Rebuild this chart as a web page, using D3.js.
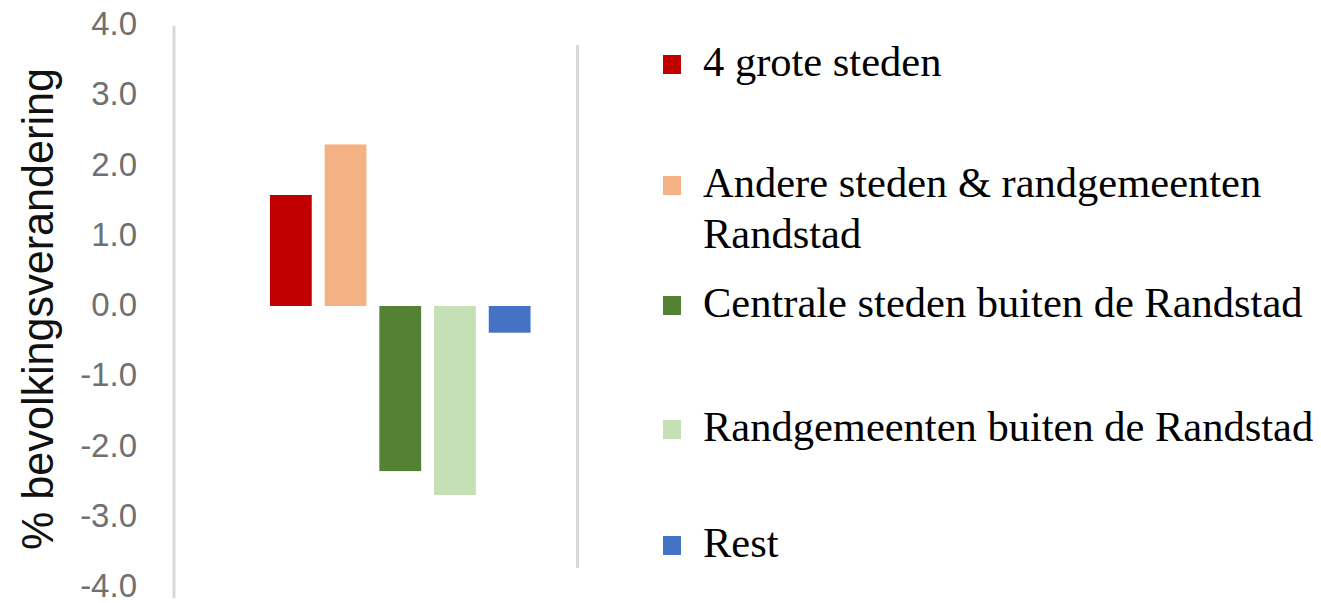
<!DOCTYPE html>
<html>
<head>
<meta charset="utf-8">
<script src="https://cdn.jsdelivr.net/npm/d3@7/dist/d3.min.js"></script>
<style>
  html, body { margin: 0; padding: 0; background: #fff; }
  svg { display: block; }
</style>
</head>
<body>
<svg id="chart" width="1321" height="603"></svg>
<script>
// ---- data ----
const series = [
  "4 grote steden",
  "Andere steden & randgemeenten Randstad",
  "Centrale steden buiten de Randstad",
  "Randgemeenten buiten de Randstad",
  "Rest"
];
const values = [1.58, 2.30, -2.35, -2.69, -0.38];
const colors = ["#c00000", "#f4b183", "#548235", "#c5e0b4", "#4472c4"];
const legendLines = [
  ["4 grote steden"],
  ["Andere steden & randgemeenten", "Randstad"],
  ["Centrale steden buiten de Randstad"],
  ["Randgemeenten buiten de Randstad"],
  ["Rest"]
];
const yTicks = [4, 3, 2, 1, 0, -1, -2, -3, -4];
const yTitle = "% bevolkingsverandering";

// ---- layout ----
const svg = d3.select("#chart");
const y = d3.scaleLinear().domain([-4, 4]).range([587, 25]);
const x = d3.scaleBand().domain(series).range([263.5, 537]).paddingInner(0.236).paddingOuter(0.118);

// axis lines
svg.append("line").attr("x1", 174).attr("x2", 174).attr("y1", 26).attr("y2", 598)
  .attr("stroke", "#d9d9d9").attr("stroke-width", 3);
svg.append("line").attr("x1", 577.5).attr("x2", 577.5).attr("y1", 45).attr("y2", 568)
  .attr("stroke", "#d9d9d9").attr("stroke-width", 3);

// y axis ticks
const fmt = d3.format(".1f");
const yAxis = d3.axisLeft(y).tickValues(yTicks)
  .tickFormat(d => fmt(d).replace("\u2212", "-"))
  .tickSize(0).tickPadding(0);
const gy = svg.append("g").attr("transform", "translate(137,-2)").call(yAxis);
gy.select(".domain").remove();
gy.selectAll("text")
  .attr("font-family", "'Liberation Sans', Arial, sans-serif")
  .attr("font-size", 33)
  .attr("fill", "#707070")
  .attr("dy", "0.35em");

// y title
svg.append("text")
  .attr("transform", "translate(53,309) rotate(-90)")
  .attr("text-anchor", "middle")
  .attr("font-family", "'Liberation Sans', Arial, sans-serif")
  .attr("font-size", 45)
  .attr("textLength", 482)
  .attr("lengthAdjust", "spacingAndGlyphs")
  .attr("fill", "#111")
  .text(yTitle);

// bars
svg.append("g").selectAll("rect")
  .data(series.map((s, i) => ({ s, v: values[i], c: colors[i] })))
  .join("rect")
  .attr("x", d => x(d.s))
  .attr("width", x.bandwidth())
  .attr("y", d => y(Math.max(0, d.v)))
  .attr("height", d => Math.abs(y(d.v) - y(0)))
  .attr("fill", d => d.c);

// legend
const legendBaselines = [76, 197, 317, 441, 557];
const lineGap = 51;
const lg = svg.append("g");
series.forEach((s, i) => {
  const by = legendBaselines[i];
  lg.append("rect").attr("x", 663).attr("y", by - 21).attr("width", 18).attr("height", 19).attr("fill", colors[i]);
  const t = lg.append("text")
    .attr("font-family", "'Liberation Serif', 'Times New Roman', serif")
    .attr("font-size", 42.5)
    .attr("fill", "#000");
  legendLines[i].forEach((ln, j) => {
    t.append("tspan").attr("x", 703).attr("y", by + j * lineGap).text(ln);
  });
});
</script>
</body>
</html>
